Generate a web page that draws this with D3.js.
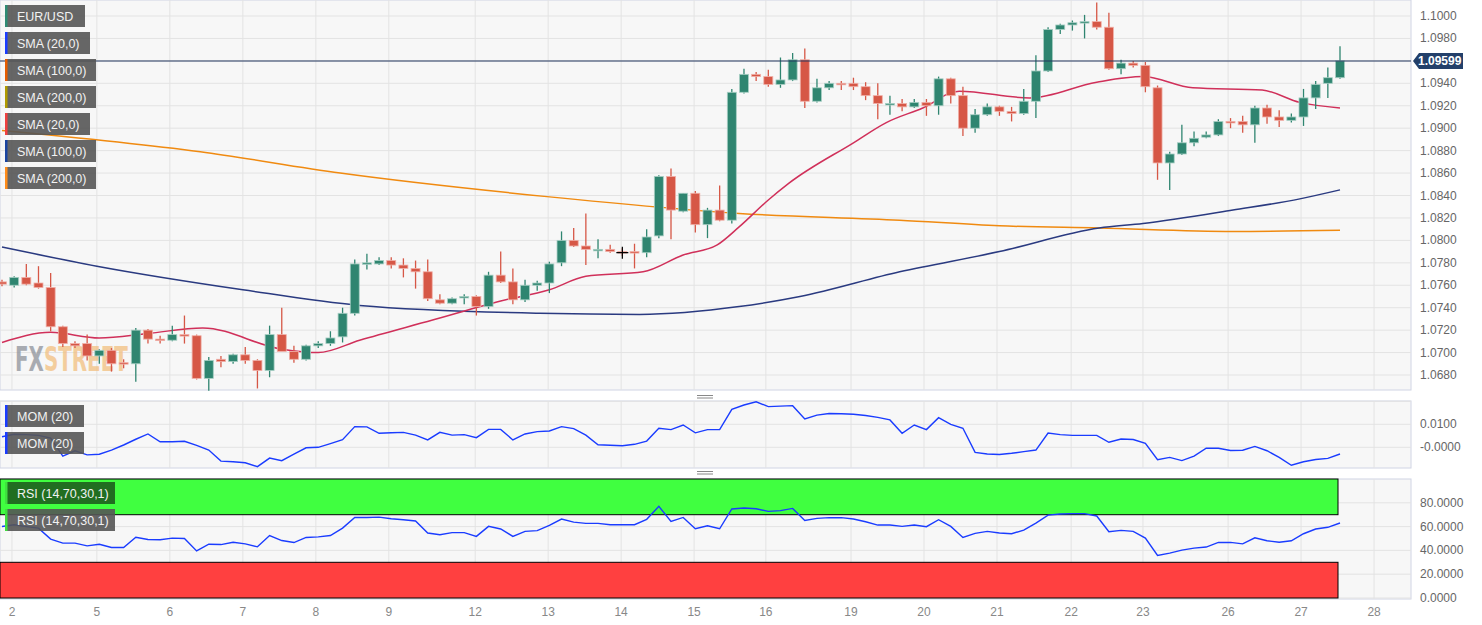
<!DOCTYPE html>
<html><head><meta charset="utf-8">
<script src="https://cdn.jsdelivr.net/npm/d3@7"></script>
<style>body{margin:0;background:#fff;font-family:"Liberation Sans",Arial,sans-serif}</style>
</head><body><svg id="c" width="1482" height="625"></svg>
<script>
const opens=[1.0763,1.0760,1.0767,1.0762,1.0758,1.0723,1.0708,1.0708,1.0697,1.0702,1.0691,1.0690,1.0720,1.0712,1.0711,1.0716,1.0715,1.0677,1.0694,1.0692,1.0698,1.0693,1.0684,1.0716,1.0701,1.0694,1.0706,1.0708,1.0714,1.0735,1.0779,1.0779,1.0782,1.0778,1.0775,1.0772,1.0747,1.0744,1.0749,1.0750,1.0741,1.0769,1.0763,1.0747,1.0760,1.0762,1.0780,1.0800,1.0795,1.0791,1.0792,1.0790,1.0790,1.0789,1.0804,1.0857,1.0826,1.0842,1.0814,1.0827,1.0818,1.0932,1.0948,1.0946,1.0939,1.0943,1.0961,1.0924,1.0936,1.0940,1.0940,1.0937,1.0929,1.0921,1.0922,1.0919,1.0923,1.0920,1.0944,1.0929,1.0900,1.0912,1.0919,1.0915,1.0913,1.0924,1.0951,1.0988,1.0992,1.0994,1.0995,1.0990,1.0953,1.0958,1.0956,1.0936,1.0869,1.0877,1.0887,1.0892,1.0894,1.0906,1.0906,1.0903,1.0918,1.0910,1.0907,1.0910,1.0927,1.0940,1.0945];
const highs=[1.0765,1.0768,1.0779,1.0777,1.0771,1.0724,1.0710,1.0716,1.0703,1.0704,1.0694,1.0722,1.0721,1.0715,1.0724,1.0733,1.0716,1.0696,1.0697,1.0699,1.0705,1.0694,1.0724,1.0740,1.0706,1.0707,1.0710,1.0719,1.0740,1.0783,1.0788,1.0785,1.0785,1.0784,1.0782,1.0783,1.0752,1.0749,1.0752,1.0751,1.0772,1.0790,1.0775,1.0765,1.0764,1.0781,1.0808,1.0811,1.0824,1.0801,1.0796,1.0793,1.0797,1.0810,1.0858,1.0864,1.0842,1.0844,1.0829,1.0849,1.0935,1.0953,1.0950,1.0952,1.0963,1.0967,1.0971,1.0944,1.0942,1.0942,1.0945,1.0941,1.0940,1.0929,1.0926,1.0926,1.0926,1.0946,1.0945,1.0937,1.0917,1.0922,1.0920,1.0919,1.0935,1.0965,1.0990,1.0993,1.0996,1.1001,1.1012,1.1003,1.0961,1.0960,1.0959,1.0938,1.0879,1.0903,1.0897,1.0897,1.0908,1.0909,1.0911,1.0920,1.0921,1.0916,1.0913,1.0935,1.0942,1.0954,1.0973];
const lows=[1.0759,1.0758,1.0760,1.0757,1.0719,1.0705,1.0704,1.0693,1.0690,1.0683,1.0686,1.0674,1.0708,1.0708,1.0710,1.0708,1.0676,1.0666,1.0687,1.0690,1.0690,1.0668,1.0678,1.0715,1.0691,1.0693,1.0704,1.0706,1.0709,1.0733,1.0774,1.0778,1.0775,1.0767,1.0757,1.0746,1.0743,1.0743,1.0743,1.0733,1.0739,1.0762,1.0743,1.0745,1.0755,1.0753,1.0777,1.0794,1.0778,1.0784,1.0789,1.0786,1.0775,1.0785,1.0802,1.0801,1.0825,1.0807,1.0802,1.0817,1.0815,1.0931,1.0942,1.0937,1.0936,1.0942,1.0918,1.0923,1.0934,1.0934,1.0934,1.0925,1.0908,1.0912,1.0915,1.0918,1.0911,1.0912,1.0922,1.0893,1.0896,1.0911,1.0911,1.0906,1.0912,1.0909,1.0950,1.0984,1.0987,1.0980,1.0988,1.0952,1.0948,1.0954,1.0932,1.0854,1.0845,1.0876,1.0884,1.0891,1.0893,1.0900,1.0896,1.0887,1.0904,1.0901,1.0905,1.0902,1.0917,1.0927,1.0944];
const closes=[1.0761,1.0767,1.0761,1.0758,1.0723,1.0708,1.0706,1.0697,1.0702,1.0690,1.0690,1.0720,1.0712,1.0711,1.0716,1.0715,1.0677,1.0693,1.0692,1.0698,1.0693,1.0684,1.0716,1.0701,1.0694,1.0706,1.0708,1.0713,1.0735,1.0779,1.0780,1.0782,1.0778,1.0775,1.0772,1.0748,1.0744,1.0748,1.0750,1.0741,1.0769,1.0763,1.0747,1.0760,1.0762,1.0779,1.0800,1.0795,1.0792,1.0792,1.0790,1.0789,1.0789,1.0803,1.0857,1.0827,1.0842,1.0814,1.0827,1.0818,1.0932,1.0948,1.0946,1.0939,1.0943,1.0961,1.0924,1.0936,1.0940,1.0939,1.0937,1.0929,1.0922,1.0922,1.0919,1.0923,1.0920,1.0944,1.0929,1.0900,1.0912,1.0919,1.0915,1.0913,1.0924,1.0951,1.0988,1.0992,1.0994,1.0995,1.0990,1.0953,1.0958,1.0956,1.0937,1.0869,1.0877,1.0887,1.0891,1.0894,1.0906,1.0905,1.0903,1.0918,1.0910,1.0907,1.0910,1.0927,1.0939,1.0945,1.0960];
const sma20=[[0,1.0709],[4,1.0718],[8,1.0713],[12,1.0717],[16.5,1.0722],[23,1.0703],[26,1.0700],[29.4,1.0711],[35.4,1.0729],[41,1.0746],[45,1.0756],[48,1.0768],[52.7,1.0772],[56,1.0787],[58.8,1.0796],[60.6,1.0812],[63,1.0836],[64.7,1.0851],[70,1.0887],[72.7,1.0905],[75.7,1.0918],[78.7,1.0933],[84.5,1.0927],[90,1.0941],[93.8,1.0946],[97.9,1.0936],[103.6,1.0934],[106.7,1.0923],[110,1.0918]];
const sma100=[[0,1.0794],[7.8,1.0777],[19.8,1.0756],[29.4,1.0742],[44.2,1.0735],[52.4,1.0734],[60.6,1.0741],[65.6,1.0750],[73.8,1.0772],[82,1.0790],[90.2,1.0811],[93.8,1.0815],[101.2,1.0827],[106.7,1.0837],[110,1.0845]];
const sma200=[[0,1.0898],[16.3,1.0879],[27.8,1.0860],[44.8,1.0839],[60.6,1.0824],[73.8,1.0818],[82,1.0813],[90.2,1.0811],[101.2,1.0808],[110,1.0809]];
const mom=[0.0046,0.0057,0.0055,0.0052,0.0040,-0.0038,-0.0015,-0.0033,-0.0030,-0.0012,0.0010,0.0035,0.0058,0.0024,0.0024,0.0026,0.0008,-0.0012,-0.0060,-0.0063,-0.0067,-0.0084,-0.0047,-0.0058,-0.0030,-0.0002,0.0000,0.0016,0.0033,0.0090,0.0089,0.0061,0.0063,0.0065,0.0053,0.0032,0.0065,0.0053,0.0055,0.0042,0.0078,0.0078,0.0032,0.0058,0.0068,0.0071,0.0090,0.0081,0.0053,0.0011,0.0009,0.0007,0.0013,0.0027,0.0083,0.0077,0.0097,0.0063,0.0077,0.0077,0.0165,0.0184,0.0198,0.0177,0.0179,0.0181,0.0123,0.0140,0.0147,0.0146,0.0144,0.0138,0.0130,0.0119,0.0061,0.0097,0.0077,0.0129,0.0100,0.0083,-0.0022,-0.0029,-0.0031,-0.0026,-0.0019,-0.0012,0.0062,0.0055,0.0052,0.0052,0.0052,0.0022,0.0036,0.0034,0.0017,-0.0054,-0.0044,-0.0058,-0.0038,-0.0004,-0.0004,-0.0014,-0.0013,0.0004,-0.0015,-0.0044,-0.0078,-0.0063,-0.0053,-0.0048,-0.0029];
const rsi=[60.1,61.5,60,58.7,49.5,46.1,46.1,43.8,45.2,42.4,42.4,51.1,49.2,48.9,50.3,50.0,39.6,45.2,44.9,46.9,45.5,43.0,52.5,48.3,46.6,50.9,51.4,52.5,58.7,67.7,67.7,68.0,66.6,65.8,64.7,54.6,53.2,54.9,54.9,51.8,60.2,58.0,51.8,56.0,56.6,61.1,66.3,63.8,62.7,62.7,61.6,61.6,61.6,66.1,77.0,64.4,67.7,58.2,60.7,58.2,74.8,75.6,75.0,72.8,73.4,75.3,65.2,66.9,67.5,67.5,66.4,64.1,61.3,61.3,60.2,61.3,59.9,65.8,60.2,50.9,54.3,56.0,54.6,54.0,57.1,63.0,69.7,70.6,70.9,70.9,68.9,55.7,56.8,56.0,50.3,35.7,37.7,40.2,41.9,42.8,46.7,46.7,45.5,50.6,48.1,46.9,48.1,54.0,58.0,59.4,63.0];
const dayLabels=["2","5","6","7","8","9","12","13","14","15","16","19","20","21","22","23","26","27","28"];
const dayTicks=[0.82,7.8,13.8,19.8,25.8,31.8,38.9,44.9,50.9,56.9,62.8,69.8,75.8,81.8,87.9,93.8,100.8,106.8,112.8];
const priceTicks=[1.0680,1.0700,1.0720,1.0740,1.0760,1.0780,1.0800,1.0820,1.0840,1.0860,1.0880,1.0900,1.0920,1.0940,1.0960,1.0980,1.1000];
const momTicks=[0.02,0.01,0.0];
const momLabels=["","0.0100","-0.0000"];
const rsiTicks=[0,20,40,60,80];
const lastPrice=1.09599;
const priceLegend=[["EUR/USD","#2e8b74"],["SMA (20,0)","#1a3cff"],["SMA (100,0)","#e65c00"],["SMA (200,0)","#b09a00"],["SMA (20,0)","#f04040"],["SMA (100,0)","#1a44a0"],["SMA (200,0)","#ff8c1a"]];

const svg=d3.select("#c");
const W=1411;
const x=d3.scaleLinear().domain([0,110]).range([2,1340]);
const y=d3.scaleLinear().domain([1.068,1.1]).range([375,16]);
const ym=d3.scaleLinear().domain([0,0.01]).range([447.3,424.3]);
const yr=d3.scaleLinear().domain([0,100]).range([598,479]);
const panels=[[0,390],[401,468],[479,599]];
panels.forEach(([a,b])=>{
  svg.append("rect").attr("x",0).attr("y",a).attr("width",W).attr("height",b-a).attr("fill","#f7f7f7").attr("stroke","#d0d4e4");
  svg.append("g").selectAll("line").data(dayTicks).join("line").attr("x1",d=>x(d)).attr("x2",d=>x(d)).attr("y1",a).attr("y2",b).attr("stroke","#e3e3e3");
});
svg.append("g").selectAll("line").data(priceTicks).join("line").attr("x1",0).attr("x2",W).attr("y1",d=>y(d)).attr("y2",d=>y(d)).attr("stroke","#e3e3e3");
svg.append("g").selectAll("text").data(priceTicks.filter(d=>Math.abs(y(d)-y(lastPrice))>10)).join("text").attr("x",1420).attr("y",d=>y(d)+4).attr("font-size",12).attr("fill","#666").text(d=>d.toFixed(4));
// watermark
const defs=svg.append("defs");
const gr=defs.append("linearGradient").attr("id","wmg").attr("x1","0").attr("x2","1").attr("y1","0").attr("y2","0");
gr.append("stop").attr("offset","0.255").attr("stop-color","#8e929a");
gr.append("stop").attr("offset","0.255").attr("stop-color","#f2bf80");
svg.append("text").attr("transform","translate(15,371) scale(0.65,1)").attr("font-size",34).attr("font-weight","bold").attr("font-family","DejaVu Sans Condensed,sans-serif").attr("opacity",0.75).attr("fill","url(#wmg)").text("FXSTREET");
const ln=d3.line().x(d=>x(d[0])).y(d=>y(d[1])).curve(d3.curveMonotoneX);
svg.append("path").attr("d",ln(sma200)).attr("fill","none").attr("stroke","#f08a10").attr("stroke-width",1.5);
svg.append("path").attr("d",ln(sma100)).attr("fill","none").attr("stroke","#2a3a80").attr("stroke-width",1.5);
svg.append("path").attr("d",ln(sma20)).attr("fill","none").attr("stroke","#d0305a").attr("stroke-width",1.5);
const idx=d3.range(opens.length);
const col=i=>closes[i]>=opens[i]?"#2f8570":"#d65746";
const g=svg.append("g");
g.selectAll("line").data(idx).join("line").attr("x1",i=>x(i)).attr("x2",i=>x(i)).attr("y1",i=>y(highs[i])).attr("y2",i=>y(lows[i])).attr("stroke",col).attr("stroke-width",1.3);
g.selectAll("rect").data(idx).join("rect").attr("x",i=>x(i)-4.5).attr("width",9)
 .attr("y",i=>y(Math.max(opens[i],closes[i]))).attr("height",i=>Math.max(1.5,Math.abs(y(opens[i])-y(closes[i]))))
 .attr("fill",col).attr("stroke",i=>closes[i]>=opens[i]?"#a8cfc4":"#f0b0a8").attr("stroke-width",0.8);
svg.append("path").attr("d",`M${x(51)-6},${y(1.0789)}h12M${x(51)},${y(1.0789)-6}v12`).attr("stroke","#000").attr("stroke-width",1.2);
svg.append("line").attr("x1",0).attr("x2",W).attr("y1",y(lastPrice)).attr("y2",y(lastPrice)).attr("stroke","#23375f").attr("stroke-width",1.2);
const ly=y(lastPrice);
svg.append("path").attr("d",`M1413,${ly}L1419,${ly-8}H1463V${ly+8}H1419Z`).attr("fill","#23406a");
svg.append("text").attr("x",1418).attr("y",ly+4.5).attr("font-size",12).attr("font-weight","bold").attr("fill","#fff").text(lastPrice.toFixed(5));
function legend(items,y0,w){
  items.forEach((it,k)=>{
    const yy=y0+k*27;
    svg.append("rect").attr("x",5).attr("y",yy).attr("width",w[k]).attr("height",22).attr("fill",it[2]||"#555").attr("opacity",0.9);
    svg.append("rect").attr("x",5).attr("y",yy).attr("width",2.5).attr("height",22).attr("fill",it[1]);
    svg.append("text").attr("x",17).attr("y",yy+15.5).attr("font-size",12.5).attr("fill","#f2f2f2").text(it[0]);
  });
}
legend(priceLegend,5,[80,85,91,91,85,91,91]);
svg.append("g").selectAll("line").data(momTicks).join("line").attr("x1",0).attr("x2",W).attr("y1",d=>ym(d)).attr("y2",d=>ym(d)).attr("stroke","#e3e3e3");
svg.append("g").selectAll("text").data(momTicks).join("text").attr("x",1420).attr("y",d=>ym(d)+4).attr("font-size",12).attr("fill","#666").text((d,i)=>momLabels[i]);
svg.append("path").attr("d",d3.line().x((d,i)=>x(i)).y(d=>ym(d))(mom)).attr("fill","none").attr("stroke","#1a3cff").attr("stroke-width",1.4);
legend([["MOM (20)","#1a3cff"],["MOM (20)","#1a3cff"]],405,[79,79]);
svg.append("g").selectAll("line").data(rsiTicks).join("line").attr("x1",0).attr("x2",W).attr("y1",d=>yr(d)).attr("y2",d=>yr(d)).attr("stroke","#e3e3e3");
svg.append("rect").attr("x",0).attr("y",yr(100)).attr("width",x(110)-2).attr("height",yr(70)-yr(100)).attr("fill","#40ff40").attr("stroke","#000").attr("stroke-width",1);
svg.append("rect").attr("x",0).attr("y",yr(30)).attr("width",x(110)-2).attr("height",yr(0)-yr(30)).attr("fill","#ff4040").attr("stroke","#000").attr("stroke-width",1);
svg.append("g").selectAll("text").data(rsiTicks).join("text").attr("x",1420).attr("y",d=>yr(d)+4).attr("font-size",12).attr("fill","#666").text(d=>d.toFixed(4));
svg.append("path").attr("d",d3.line().x((d,i)=>x(i)).y(d=>yr(d))(rsi)).attr("fill","none").attr("stroke","#1a3cff").attr("stroke-width",1.4);
legend([["RSI (14,70,30,1)","#3fe03f","#1e5e1e"],["RSI (14,70,30,1)","#3fe03f"]],482,[110,110]);
svg.append("g").selectAll("text").data(dayTicks).join("text").attr("x",d=>x(d)).attr("y",616).attr("text-anchor","middle").attr("font-size",12).attr("fill","#888").text((d,i)=>dayLabels[i]);
[395.5,471.5].forEach(h=>{svg.append("path").attr("d",`M697,${h}h16M697,${h+2.5}h16`).attr("stroke","#888").attr("stroke-width",1);});
</script></body></html>
